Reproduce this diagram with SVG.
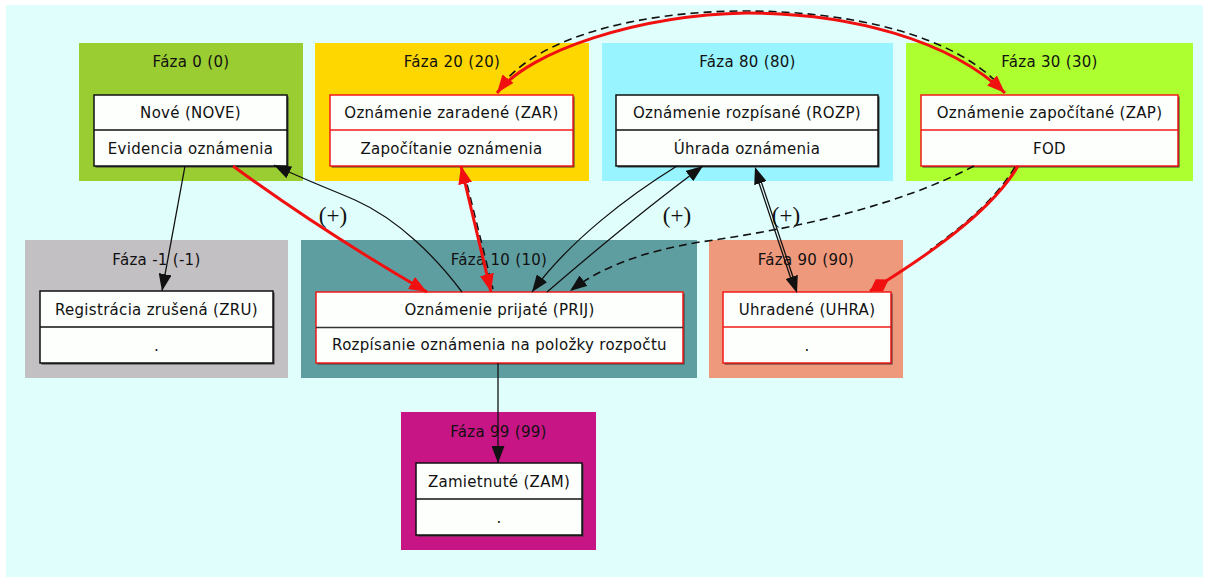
<svg xmlns="http://www.w3.org/2000/svg" width="1208" height="579" viewBox="0 0 1208 579">
<defs>
<style>
.cl text, .node text { font-family: "DejaVu Sans", "Liberation Sans", sans-serif; font-size: 15px; letter-spacing: 0.3px; text-anchor: middle; fill: #111; }
.sh { fill: #3a3a3a; }
.bx { fill: #fcfffc; stroke-width: 1.5; }
.blk { stroke: #111; }
.red { stroke: #f21a1a; }
.dv { stroke-width: 1.5; }
.e { fill: none; stroke: #111; stroke-width: 1.3; }
.er { fill: none; stroke: #f01010; stroke-width: 3; }
.dash { stroke-dasharray: 8 5; stroke-width: 1.6; }
.lbl { font-family: "Liberation Serif", "DejaVu Serif", serif; font-size: 23px; text-anchor: middle; fill: #111; }
</style>
<marker id="ab" viewBox="0 0 17 13" refX="17" refY="6.5" markerWidth="17" markerHeight="13" markerUnits="userSpaceOnUse" orient="auto-start-reverse"><path d="M0,0 L17,6.5 L0,13 z" fill="#111"/></marker>
<marker id="ar" viewBox="0 0 18 14" refX="18" refY="7" markerWidth="18" markerHeight="14" markerUnits="userSpaceOnUse" orient="auto-start-reverse"><path d="M0,0 L18,7 L0,14 z" fill="#f01010"/></marker>
<marker id="dr" viewBox="0 0 22 14" refX="22" refY="7" markerWidth="22" markerHeight="14" markerUnits="userSpaceOnUse" orient="auto"><path d="M0,7 L11,0 L22,7 L11,14 z" fill="#f01010"/></marker>
</defs>
<rect x="0" y="0" width="1208" height="579" fill="#ffffff"/>
<rect x="6" y="5" width="1197" height="572" fill="#e0fffc"/>

<g id="clusters">
<g id="cluster-0" class="cl"><rect x="79" y="43" width="224" height="138" fill="#9acd32"/><text x="191" y="67">Fáza 0 (0)</text></g>
<g id="cluster-20" class="cl"><rect x="315" y="43" width="274" height="138" fill="#ffd700"/><text x="452" y="67">Fáza 20 (20)</text></g>
<g id="cluster-80" class="cl"><rect x="602" y="43" width="291" height="138" fill="#98f5ff"/><text x="747.5" y="67">Fáza 80 (80)</text></g>
<g id="cluster-30" class="cl"><rect x="906" y="43" width="287" height="138" fill="#adff2f"/><text x="1049.5" y="67">Fáza 30 (30)</text></g>
<g id="cluster-m1" class="cl"><rect x="25" y="240" width="263" height="138" fill="#c3c0c3"/><text x="156.5" y="265">Fáza -1 (-1)</text></g>
<g id="cluster-10" class="cl"><rect x="301" y="240" width="396" height="138" fill="#5f9ea0"/><text x="499" y="265">Fáza 10 (10)</text></g>
<g id="cluster-90" class="cl"><rect x="709" y="240" width="194" height="138" fill="#ee997c"/><text x="806" y="265">Fáza 90 (90)</text></g>
<g id="cluster-99" class="cl"><rect x="401" y="412" width="195" height="138" fill="#c71585"/><text x="498.5" y="437">Fáza 99 (99)</text></g>
</g>

<g id="node-NOVE" class="node">
<rect class="sh" x="95.5" y="96.5" width="193" height="71"/>
<rect class="bx blk" x="94" y="95" width="193" height="71"/>
<line class="dv blk" x1="94" y1="130" x2="287" y2="130"/>
<text x="190.5" y="118">Nové (NOVE)</text>
<text x="190.5" y="154">Evidencia oznámenia</text>
</g>
<g id="node-ZAR" class="node">
<rect class="sh" x="331.5" y="96.5" width="243" height="71"/>
<rect class="bx red" x="330" y="95" width="243" height="71"/>
<line class="dv red" x1="330" y1="130" x2="573" y2="130"/>
<text x="451.5" y="118">Oznámenie zaradené (ZAR)</text>
<text x="451.5" y="154">Započítanie oznámenia</text>
</g>
<g id="node-ROZP" class="node">
<rect class="sh" x="617.5" y="96.5" width="262" height="71"/>
<rect class="bx blk" x="616" y="95" width="262" height="71"/>
<line class="dv blk" x1="616" y1="130" x2="878" y2="130"/>
<text x="747" y="118">Oznámenie rozpísané (ROZP)</text>
<text x="747" y="154">Úhrada oznámenia</text>
</g>
<g id="node-ZAP" class="node">
<rect class="sh" x="922.5" y="96.5" width="257" height="71"/>
<rect class="bx red" x="921" y="95" width="257" height="71"/>
<line class="dv red" x1="921" y1="130" x2="1178" y2="130"/>
<text x="1049.5" y="118">Oznámenie započítané (ZAP)</text>
<text x="1049.5" y="154">FOD</text>
</g>
<g id="node-ZRU" class="node">
<rect class="sh" x="41.5" y="292.5" width="233" height="72"/>
<rect class="bx blk" x="40" y="291" width="233" height="72"/>
<line class="dv blk" x1="40" y1="327" x2="273" y2="327"/>
<text x="156.5" y="315">Registrácia zrušená (ZRU)</text>
<text x="156.5" y="351">.</text>
</g>
<g id="node-PRIJ" class="node">
<rect class="sh" x="317.5" y="293.5" width="367" height="71"/>
<rect class="bx red" x="316" y="292" width="367" height="71"/>
<line class="dv" stroke="#333" x1="316" y1="327.5" x2="683" y2="327.5"/>
<text x="499.5" y="315">Oznámenie prijaté (PRIJ)</text>
<text x="499.5" y="350">Rozpísanie oznámenia na položky rozpočtu</text>
</g>
<g id="node-UHRA" class="node">
<rect class="sh" x="724.5" y="293.5" width="168" height="71"/>
<rect class="bx red" x="723" y="292" width="168" height="71"/>
<line class="dv red" x1="723" y1="327" x2="891" y2="327"/>
<text x="807" y="315">Uhradené (UHRA)</text>
<text x="807" y="351">.</text>
</g>
<g id="node-ZAM" class="node">
<rect class="sh" x="417.5" y="464.5" width="166" height="72"/>
<rect class="bx blk" x="416" y="463" width="166" height="72"/>
<line class="dv blk" x1="416" y1="499" x2="582" y2="499"/>
<text x="499" y="487">Zamietnuté (ZAM)</text>
<text x="499" y="523">.</text>
</g>

<g id="connectors">
<path class="e" d="M185,166 L162,291" marker-end="url(#ab)"/>
<path class="er" d="M233,166 Q320,230 427,292" marker-end="url(#ar)"/>
<path class="e" d="M462,292 C438,260 400,220 355,200 C330,189 305,180 274,165" marker-end="url(#ab)"/>
<text class="lbl" x="333" y="223">(+)</text>
<path class="e dash" d="M464,172 L493,289"/>
<path class="er" d="M461,166 L491,292" marker-start="url(#ar)" marker-end="url(#ar)"/>
<path class="e" d="M677,166 C630,195 570,240 532,292" marker-end="url(#ab)"/>
<path class="e" d="M547,292 C590,255 650,205 703,166" marker-end="url(#ab)"/>
<text class="lbl" x="677" y="223">(+)</text>
<path class="e" d="M757.6,178.8 L792,282"/>
<path class="e" d="M760,178 L794.4,281.2"/>
<path d="M755,167 L797,293" fill="none" stroke="none" marker-start="url(#ab)" marker-end="url(#ab)"/>
<text class="lbl" x="786" y="223">(+)</text>
<path class="e dash" d="M501,86 C538,37 640,11 745,11 C850,11 955,35 1001,87"/>
<path class="er" d="M497,93 C530,50 640,15 747,13 C850,13 950,40 1005,93" marker-start="url(#ar)" marker-end="url(#ar)"/>
<path class="e dash" d="M974,166 C900,205 800,228 700,242 C640,252 600,268 570,291" marker-end="url(#ab)"/>
<path class="e dash" d="M1015,167 C1000,192 975,218 930,250"/>
<path class="er" d="M1018,166 C995,205 945,245 870,291" marker-end="url(#dr)"/>
<path class="e" d="M498,363 L498,463" marker-end="url(#ab)"/>
</g>
</svg>
